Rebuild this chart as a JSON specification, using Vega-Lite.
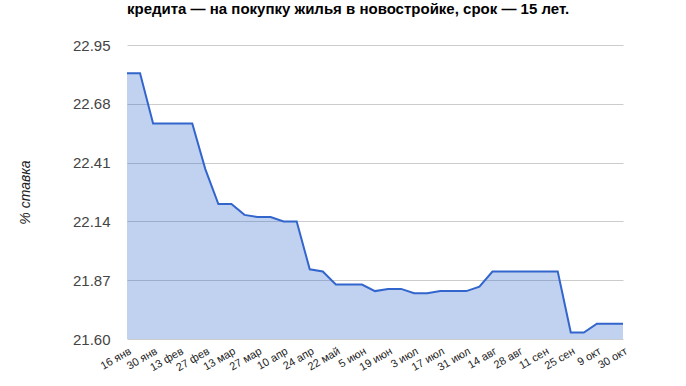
{
  "$schema": "https://vega.github.io/schema/vega-lite/v6.json",
  "autosize": {"type": "none"},
  "width": 496,
  "height": 294,
  "padding": {"left": 127, "top": 45, "right": 63, "bottom": 47},
  "background": "white",
  "title": {
    "text": "кредита — на покупку жилья в новостройке, срок — 15 лет.",
    "anchor": "start",
    "frame": "group",
    "orient": "top",
    "font": "Liberation Sans",
    "fontSize": 15,
    "fontWeight": "bold",
    "color": "#000000",
    "baseline": "alphabetic",
    "offset": 9
  },
  "data": {
    "values": [
      {"date": "16 янв", "rate": 22.82},
      {"date": "23 янв", "rate": 22.82},
      {"date": "30 янв", "rate": 22.59},
      {"date": "6 фев", "rate": 22.59},
      {"date": "13 фев", "rate": 22.59},
      {"date": "20 фев", "rate": 22.59},
      {"date": "27 фев", "rate": 22.38},
      {"date": "6 мар", "rate": 22.22},
      {"date": "13 мар", "rate": 22.22},
      {"date": "20 мар", "rate": 22.17},
      {"date": "27 мар", "rate": 22.16},
      {"date": "3 апр", "rate": 22.16},
      {"date": "10 апр", "rate": 22.14},
      {"date": "17 апр", "rate": 22.14},
      {"date": "24 апр", "rate": 21.92},
      {"date": "8 май", "rate": 21.91},
      {"date": "22 май", "rate": 21.85},
      {"date": "29 май", "rate": 21.85},
      {"date": "5 июн", "rate": 21.85},
      {"date": "12 июн", "rate": 21.82},
      {"date": "19 июн", "rate": 21.83},
      {"date": "26 июн", "rate": 21.83},
      {"date": "3 июл", "rate": 21.81},
      {"date": "10 июл", "rate": 21.81},
      {"date": "17 июл", "rate": 21.82},
      {"date": "24 июл", "rate": 21.82},
      {"date": "31 июл", "rate": 21.82},
      {"date": "7 авг", "rate": 21.84},
      {"date": "14 авг", "rate": 21.91},
      {"date": "21 авг", "rate": 21.91},
      {"date": "28 авг", "rate": 21.91},
      {"date": "4 сен", "rate": 21.91},
      {"date": "11 сен", "rate": 21.91},
      {"date": "18 сен", "rate": 21.91},
      {"date": "25 сен", "rate": 21.63},
      {"date": "2 окт", "rate": 21.63},
      {"date": "9 окт", "rate": 21.67},
      {"date": "16 окт", "rate": 21.67},
      {"date": "30 окт", "rate": 21.67}
    ]
  },
  "mark": {
    "type": "area",
    "fill": "#3366cc",
    "fillOpacity": 0.3,
    "line": {"color": "#3366cc", "strokeWidth": 2}
  },
  "encoding": {
    "x": {
      "field": "date",
      "type": "ordinal",
      "sort": null,
      "scale": {"type": "point", "padding": 0},
      "axis": {
        "title": null,
        "values": ["16 янв", "30 янв", "13 фев", "27 фев", "13 мар", "27 мар", "10 апр", "24 апр", "22 май", "5 июн", "19 июн", "3 июл", "17 июл", "31 июл", "14 авг", "28 авг", "11 сен", "25 сен", "9 окт", "30 окт"],
        "labelAngle": -30,
        "labelAlign": "right",
        "labelBaseline": "top",
        "labelPadding": 6,
        "labelFont": "Liberation Sans",
        "labelFontSize": 11,
        "labelColor": "#222222",
        "labelOverlap": false,
        "ticks": false,
        "domain": false,
        "grid": false
      }
    },
    "y": {
      "field": "rate",
      "type": "quantitative",
      "scale": {"domain": [21.6, 22.95], "zero": false, "nice": false},
      "axis": {
        "title": "% ставка",
        "titleFont": "Liberation Sans",
        "titleFontSize": 14,
        "titleFontStyle": "italic",
        "titleFontWeight": "normal",
        "titleColor": "#222222",
        "titleAngle": -90,
        "titleX": -102,
        "titleY": 147,
        "titleAlign": "center",
        "titleBaseline": "middle",
        "values": [21.6, 21.87, 22.14, 22.41, 22.68, 22.95],
        "format": ".2f",
        "labelFont": "Liberation Sans",
        "labelFontSize": 15,
        "labelColor": "#444444",
        "labelPadding": 17,
        "ticks": false,
        "domain": false,
        "grid": true,
        "gridColor": "#cccccc",
        "gridWidth": 1
      }
    },
    "y2": {"datum": 21.6}
  },
  "config": {"view": {"stroke": null}}
}
